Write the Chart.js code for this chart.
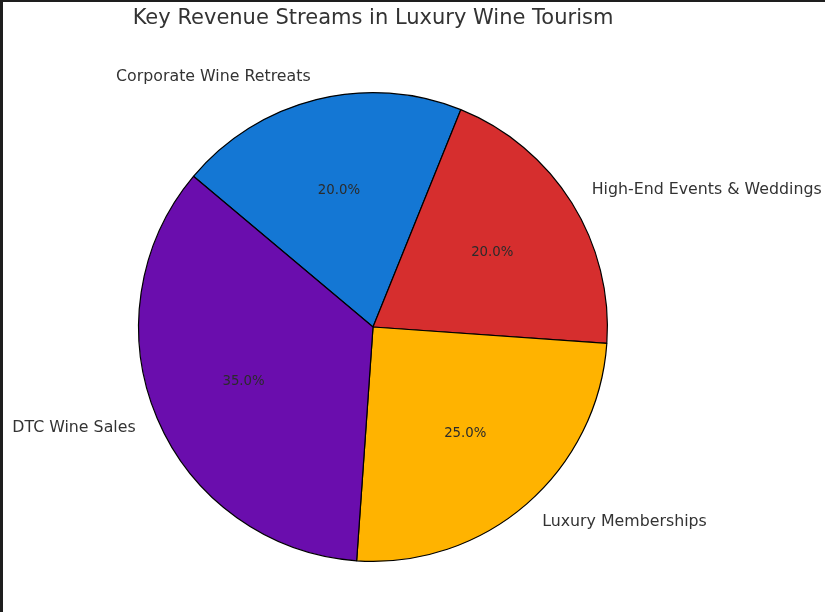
<!DOCTYPE html>
<html>
<head>
<meta charset="utf-8">
<script src="https://cdn.jsdelivr.net/npm/chart.js@4/dist/chart.umd.min.js"></script>
<style>
  html, body { margin: 0; padding: 0; background: #ffffff; }
  #wrap { position: relative; width: 825px; height: 612px; overflow: hidden; }
  canvas { position: absolute; left: 0; top: 0; }
  #bl { position: absolute; left: 0; top: 0; width: 3px; height: 612px; background: #1e1e1e; }
  #bt { position: absolute; left: 0; top: 0; width: 825px; height: 2px; background: #1e1e1e; }
</style>
</head>
<body>
<div id="wrap">
  <canvas id="c" width="825" height="612"></canvas>
  <div id="bl"></div>
  <div id="bt"></div>
</div>
<script>
const titleText = "Key Revenue Streams in Luxury Wine Tourism";
const categories = ["DTC Wine Sales", "Luxury Memberships", "High-End Events & Weddings", "Corporate Wine Retreats"];
const values = [35, 25, 20, 20];
const colors = ["#6a0dad", "#ffb300", "#d62e2e", "#1477d4"];

// matplotlib draws counter-clockwise from 140deg; Chart.js draws clockwise,
// so feed the slices in reverse order.
const order = categories.map((_, i) => i).reverse();
const chartLabels = order.map(i => categories[i]);
const chartValues = order.map(i => values[i]);
const chartColors = order.map(i => colors[i]);
const total = values.reduce((a, b) => a + b, 0);

const FONT = '"DejaVu Sans", sans-serif';

const labelPlugin = {
  id: 'pieLabels',
  afterDraw(chart) {
    const ctx = chart.ctx;
    const meta = chart.getDatasetMeta(0);
    ctx.save();
    // title
    ctx.fillStyle = '#333333';
    ctx.font = '21px ' + FONT;
    ctx.textAlign = 'center';
    ctx.textBaseline = 'middle';
    ctx.fillText(titleText, 373, 19);

    meta.data.forEach((arc, i) => {
      const p = arc.getProps(['x', 'y', 'startAngle', 'endAngle', 'outerRadius'], true);
      const mid = (p.startAngle + p.endAngle) / 2;
      const cx = Math.cos(mid), cy = Math.sin(mid);
      // outer label
      ctx.font = '15.8px ' + FONT;
      ctx.fillStyle = '#333333';
      ctx.textBaseline = 'middle';
      ctx.textAlign = cx >= 0 ? 'left' : 'right';
      ctx.fillText(chartLabels[i], p.x + 1.1 * p.outerRadius * cx, p.y + 1.1 * p.outerRadius * cy);
      // percentage
      ctx.font = '13.3px ' + FONT;
      ctx.fillStyle = '#2b2b2b';
      ctx.textAlign = 'center';
      const pct = (chartValues[i] / total * 100).toFixed(1) + '%';
      ctx.fillText(pct, p.x + 0.6 * p.outerRadius * cx, p.y + 0.6 * p.outerRadius * cy);
    });
    ctx.restore();
  }
};

new Chart(document.getElementById('c'), {
  type: 'pie',
  data: {
    labels: chartLabels,
    datasets: [{
      data: chartValues,
      backgroundColor: chartColors,
      borderColor: '#000000',
      borderWidth: 1.2
    }]
  },
  options: {
    responsive: false,
    devicePixelRatio: 1,
    animation: false,
    rotation: -50,
    layout: { padding: { top: 92, bottom: 50, left: 0, right: 79 } },
    plugins: {
      legend: { display: false },
      title: { display: false },
      tooltip: { enabled: false }
    }
  },
  plugins: [labelPlugin]
});
</script>
</body>
</html>
